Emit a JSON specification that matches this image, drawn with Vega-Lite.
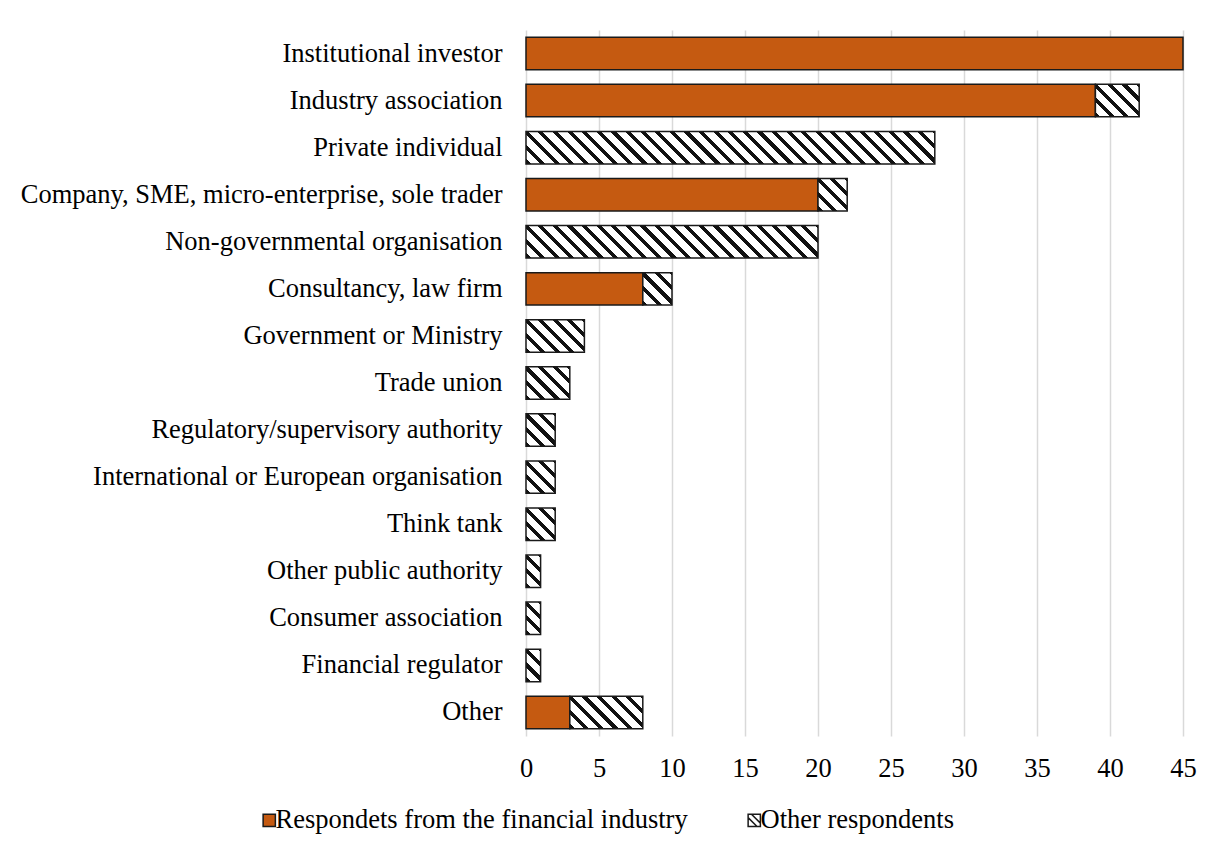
{
  "$schema": "https://vega.github.io/schema/vega-lite/v6.json",
  "autosize": {"type": "none"},
  "padding": {"left": 526, "top": 30, "right": 30, "bottom": 123},
  "width": 657,
  "height": 706,
  "background": "white",
  "config": {
    "font": "Liberation Serif",
    "view": {"stroke": null},
    "axis": {"labelFont": "Liberation Serif", "labelFontSize": 26.5, "labelColor": "#000", "ticks": false, "domain": false, "title": null}
  },
  "data": {
    "values": [
      {"category": "Institutional investor", "group": "Respondets from the financial industry", "n": 45},
      {"category": "Industry association", "group": "Respondets from the financial industry", "n": 39},
      {"category": "Industry association", "group": "Other respondents", "n": 3},
      {"category": "Private individual", "group": "Other respondents", "n": 28},
      {"category": "Company, SME, micro-enterprise, sole trader", "group": "Respondets from the financial industry", "n": 20},
      {"category": "Company, SME, micro-enterprise, sole trader", "group": "Other respondents", "n": 2},
      {"category": "Non-governmental organisation", "group": "Other respondents", "n": 20},
      {"category": "Consultancy, law firm", "group": "Respondets from the financial industry", "n": 8},
      {"category": "Consultancy, law firm", "group": "Other respondents", "n": 2},
      {"category": "Government or Ministry", "group": "Other respondents", "n": 4},
      {"category": "Trade union", "group": "Other respondents", "n": 3},
      {"category": "Regulatory/supervisory authority", "group": "Other respondents", "n": 2},
      {"category": "International or European organisation", "group": "Other respondents", "n": 2},
      {"category": "Think tank", "group": "Other respondents", "n": 2},
      {"category": "Other public authority", "group": "Other respondents", "n": 1},
      {"category": "Consumer association", "group": "Other respondents", "n": 1},
      {"category": "Financial regulator", "group": "Other respondents", "n": 1},
      {"category": "Other", "group": "Respondets from the financial industry", "n": 3},
      {"category": "Other", "group": "Other respondents", "n": 5}
    ]
  },
  "transform": [
    {"stack": "n", "groupby": ["category"], "sort": [{"field": "group", "order": "descending"}], "as": ["x0", "x1"]}
  ],
  "encoding": {
    "y": {
      "field": "category", "type": "nominal", "sort": null,
      "scale": {
        "domain": ["Institutional investor", "Industry association", "Private individual", "Company, SME, micro-enterprise, sole trader", "Non-governmental organisation", "Consultancy, law firm", "Government or Ministry", "Trade union", "Regulatory/supervisory authority", "International or European organisation", "Think tank", "Other public authority", "Consumer association", "Financial regulator", "Other"],
        "paddingInner": 0.31, "paddingOuter": 0.155
      },
      "axis": {"labelPadding": 24, "labelLimit": 700, "grid": false}
    },
    "x": {
      "field": "x0", "type": "quantitative",
      "scale": {"domain": [0, 45], "nice": false},
      "axis": {"values": [0, 5, 10, 15, 20, 25, 30, 35, 40, 45], "grid": true, "gridColor": "#d9d9d9", "gridWidth": 1.5, "labelPadding": 19, "labelFlush": false}
    },
    "x2": {"field": "x1"}
  },
  "layer": [
    {
      "transform": [{"filter": "datum.group === 'Respondets from the financial industry'"}],
      "mark": {"type": "bar", "stroke": "#1a1a1a", "strokeWidth": 1.5},
      "encoding": {
        "color": {
          "field": "group", "type": "nominal",
          "scale": {"domain": ["Respondets from the financial industry", "Other respondents"], "range": ["#C55A11", "#ffffff"]},
          "legend": {
            "orient": "none", "legendX": -270, "legendY": 777, "direction": "horizontal", "title": null, "padding": 0,
            "symbolType": "square", "symbolSize": 150, "symbolStrokeColor": "#1a1a1a", "symbolStrokeWidth": 1.5, "symbolOpacity": 1,
            "labelFont": "Liberation Serif", "labelFontSize": 26.5, "labelColor": "#000", "labelOffset": -7, "labelLimit": 0, "columnPadding": 53,
            "encode": {"symbols": {"update": {
              "shape": [
                {"test": "datum.value === 'Other respondents'", "value": "M-1,-1H1V1H-1Z M-0.45,-1L1,0.45L1,-1Z M-1,-0.45L-1,1L0.45,1Z"},
                {"value": "square"}
              ],
              "fill": [
                {"test": "datum.value === 'Other respondents'", "value": "#111"},
                {"value": "#C55A11"}
              ],
              "stroke": {"value": "#1a1a1a"},
              "strokeWidth": {"value": 1.5},
              "opacity": {"value": 1}
            }}}
          }
        }
      }
    },
    {
      "transform": [{"filter": "datum.group === 'Other respondents' && datum.n === 1"}],
      "mark": {"type": "bar", "stroke": "#1a1a1a", "strokeWidth": 1.5, "fill": {"gradient": "linear", "x1": 0, "y1": 1, "x2": 0.5421, "y2": -0.2059, "stops": [
        {"offset": 0, "color": "#111"}, {"offset": 0.1085, "color": "#111"}, {"offset": 0.1085, "color": "#fff"}, {"offset": 0.3101, "color": "#fff"},
        {"offset": 0.3101, "color": "#111"}, {"offset": 0.4187, "color": "#111"}, {"offset": 0.4187, "color": "#fff"}, {"offset": 0.6203, "color": "#fff"},
        {"offset": 0.6203, "color": "#111"}, {"offset": 0.7288, "color": "#111"}, {"offset": 0.7288, "color": "#fff"}, {"offset": 0.9304, "color": "#fff"},
        {"offset": 0.9304, "color": "#111"}, {"offset": 1, "color": "#111"}]}}
    },
    {
      "transform": [{"filter": "datum.group === 'Other respondents' && datum.n === 2"}],
      "mark": {"type": "bar", "stroke": "#1a1a1a", "strokeWidth": 1.5, "fill": {"gradient": "linear", "x1": 0, "y1": 1, "x2": 0.9442, "y2": -0.0501, "stops": [
        {"offset": 0, "color": "#111"}, {"offset": 0.0829, "color": "#111"}, {"offset": 0.0829, "color": "#fff"}, {"offset": 0.2367, "color": "#fff"},
        {"offset": 0.2367, "color": "#111"}, {"offset": 0.3196, "color": "#111"}, {"offset": 0.3196, "color": "#fff"}, {"offset": 0.4734, "color": "#fff"},
        {"offset": 0.4734, "color": "#111"}, {"offset": 0.5563, "color": "#111"}, {"offset": 0.5563, "color": "#fff"}, {"offset": 0.7102, "color": "#fff"},
        {"offset": 0.7102, "color": "#111"}, {"offset": 0.7930, "color": "#111"}, {"offset": 0.7930, "color": "#fff"}, {"offset": 0.9469, "color": "#fff"},
        {"offset": 0.9469, "color": "#111"}, {"offset": 1, "color": "#111"}]}}
    },
    {
      "transform": [{"filter": "datum.group === 'Other respondents' && datum.n === 3"}],
      "mark": {"type": "bar", "stroke": "#1a1a1a", "strokeWidth": 1.5, "fill": {"gradient": "linear", "x1": 0, "y1": 1, "x2": 1.1237, "y2": 0.1668, "stops": [
        {"offset": 0, "color": "#111"}, {"offset": 0.0670, "color": "#111"}, {"offset": 0.0670, "color": "#fff"}, {"offset": 0.1914, "color": "#fff"},
        {"offset": 0.1914, "color": "#111"}, {"offset": 0.2584, "color": "#111"}, {"offset": 0.2584, "color": "#fff"}, {"offset": 0.3828, "color": "#fff"},
        {"offset": 0.3828, "color": "#111"}, {"offset": 0.4498, "color": "#111"}, {"offset": 0.4498, "color": "#fff"}, {"offset": 0.5742, "color": "#fff"},
        {"offset": 0.5742, "color": "#111"}, {"offset": 0.6412, "color": "#111"}, {"offset": 0.6412, "color": "#fff"}, {"offset": 0.7656, "color": "#fff"},
        {"offset": 0.7656, "color": "#111"}, {"offset": 0.8326, "color": "#111"}, {"offset": 0.8326, "color": "#fff"}, {"offset": 0.9570, "color": "#fff"},
        {"offset": 0.9570, "color": "#111"}, {"offset": 1, "color": "#111"}]}}
    },
    {
      "transform": [{"filter": "datum.group === 'Other respondents' && datum.n === 4"}],
      "mark": {"type": "bar", "stroke": "#1a1a1a", "strokeWidth": 1.5, "fill": {"gradient": "linear", "x1": 0, "y1": 1, "x2": 1.1885, "y2": 0.3391, "stops": [
        {"offset": 0, "color": "#111"}, {"offset": 0.0562, "color": "#111"}, {"offset": 0.0562, "color": "#fff"}, {"offset": 0.1607, "color": "#fff"},
        {"offset": 0.1607, "color": "#111"}, {"offset": 0.2169, "color": "#111"}, {"offset": 0.2169, "color": "#fff"}, {"offset": 0.3213, "color": "#fff"},
        {"offset": 0.3213, "color": "#111"}, {"offset": 0.3775, "color": "#111"}, {"offset": 0.3775, "color": "#fff"}, {"offset": 0.4820, "color": "#fff"},
        {"offset": 0.4820, "color": "#111"}, {"offset": 0.5382, "color": "#111"}, {"offset": 0.5382, "color": "#fff"}, {"offset": 0.6426, "color": "#fff"},
        {"offset": 0.6426, "color": "#111"}, {"offset": 0.6988, "color": "#111"}, {"offset": 0.6988, "color": "#fff"}, {"offset": 0.8033, "color": "#fff"},
        {"offset": 0.8033, "color": "#111"}, {"offset": 0.8595, "color": "#111"}, {"offset": 0.8595, "color": "#fff"}, {"offset": 0.9640, "color": "#fff"},
        {"offset": 0.9640, "color": "#111"}, {"offset": 1, "color": "#111"}]}}
    },
    {
      "transform": [{"filter": "datum.group === 'Other respondents' && datum.n === 5"}],
      "mark": {"type": "bar", "stroke": "#1a1a1a", "strokeWidth": 1.5, "fill": {"gradient": "linear", "x1": 0, "y1": 1, "x2": 1.2062, "y2": 0.4634, "stops": [
        {"offset": 0, "color": "#111"}, {"offset": 0.0484, "color": "#111"}, {"offset": 0.0484, "color": "#fff"}, {"offset": 0.1384, "color": "#fff"},
        {"offset": 0.1384, "color": "#111"}, {"offset": 0.1869, "color": "#111"}, {"offset": 0.1869, "color": "#fff"}, {"offset": 0.2768, "color": "#fff"},
        {"offset": 0.2768, "color": "#111"}, {"offset": 0.3253, "color": "#111"}, {"offset": 0.3253, "color": "#fff"}, {"offset": 0.4153, "color": "#fff"},
        {"offset": 0.4153, "color": "#111"}, {"offset": 0.4637, "color": "#111"}, {"offset": 0.4637, "color": "#fff"}, {"offset": 0.5537, "color": "#fff"},
        {"offset": 0.5537, "color": "#111"}, {"offset": 0.6021, "color": "#111"}, {"offset": 0.6021, "color": "#fff"}, {"offset": 0.6921, "color": "#fff"},
        {"offset": 0.6921, "color": "#111"}, {"offset": 0.7406, "color": "#111"}, {"offset": 0.7406, "color": "#fff"}, {"offset": 0.8305, "color": "#fff"},
        {"offset": 0.8305, "color": "#111"}, {"offset": 0.8790, "color": "#111"}, {"offset": 0.8790, "color": "#fff"}, {"offset": 0.9689, "color": "#fff"},
        {"offset": 0.9689, "color": "#111"}, {"offset": 1, "color": "#111"}]}}
    },
    {
      "transform": [{"filter": "datum.group === 'Other respondents' && datum.n === 20"}],
      "mark": {"type": "bar", "stroke": "#1a1a1a", "strokeWidth": 1.5, "fill": {"gradient": "linear", "x1": 0, "y1": 1, "x2": 1.0976, "y2": 0.8779, "stops": [
        {"offset": 0, "color": "#111"}, {"offset": 0.0157, "color": "#111"}, {"offset": 0.0157, "color": "#fff"}, {"offset": 0.0450, "color": "#fff"},
        {"offset": 0.0450, "color": "#111"}, {"offset": 0.0607, "color": "#111"}, {"offset": 0.0607, "color": "#fff"}, {"offset": 0.0900, "color": "#fff"},
        {"offset": 0.0900, "color": "#111"}, {"offset": 0.1057, "color": "#111"}, {"offset": 0.1057, "color": "#fff"}, {"offset": 0.1350, "color": "#fff"},
        {"offset": 0.1350, "color": "#111"}, {"offset": 0.1507, "color": "#111"}, {"offset": 0.1507, "color": "#fff"}, {"offset": 0.1800, "color": "#fff"},
        {"offset": 0.1800, "color": "#111"}, {"offset": 0.1957, "color": "#111"}, {"offset": 0.1957, "color": "#fff"}, {"offset": 0.2250, "color": "#fff"},
        {"offset": 0.2250, "color": "#111"}, {"offset": 0.2407, "color": "#111"}, {"offset": 0.2407, "color": "#fff"}, {"offset": 0.2700, "color": "#fff"},
        {"offset": 0.2700, "color": "#111"}, {"offset": 0.2857, "color": "#111"}, {"offset": 0.2857, "color": "#fff"}, {"offset": 0.3150, "color": "#fff"},
        {"offset": 0.3150, "color": "#111"}, {"offset": 0.3307, "color": "#111"}, {"offset": 0.3307, "color": "#fff"}, {"offset": 0.3600, "color": "#fff"},
        {"offset": 0.3600, "color": "#111"}, {"offset": 0.3757, "color": "#111"}, {"offset": 0.3757, "color": "#fff"}, {"offset": 0.4050, "color": "#fff"},
        {"offset": 0.4050, "color": "#111"}, {"offset": 0.4207, "color": "#111"}, {"offset": 0.4207, "color": "#fff"}, {"offset": 0.4500, "color": "#fff"},
        {"offset": 0.4500, "color": "#111"}, {"offset": 0.4657, "color": "#111"}, {"offset": 0.4657, "color": "#fff"}, {"offset": 0.4949, "color": "#fff"},
        {"offset": 0.4949, "color": "#111"}, {"offset": 0.5107, "color": "#111"}, {"offset": 0.5107, "color": "#fff"}, {"offset": 0.5399, "color": "#fff"},
        {"offset": 0.5399, "color": "#111"}, {"offset": 0.5557, "color": "#111"}, {"offset": 0.5557, "color": "#fff"}, {"offset": 0.5849, "color": "#fff"},
        {"offset": 0.5849, "color": "#111"}, {"offset": 0.6007, "color": "#111"}, {"offset": 0.6007, "color": "#fff"}, {"offset": 0.6299, "color": "#fff"},
        {"offset": 0.6299, "color": "#111"}, {"offset": 0.6457, "color": "#111"}, {"offset": 0.6457, "color": "#fff"}, {"offset": 0.6749, "color": "#fff"},
        {"offset": 0.6749, "color": "#111"}, {"offset": 0.6907, "color": "#111"}, {"offset": 0.6907, "color": "#fff"}, {"offset": 0.7199, "color": "#fff"},
        {"offset": 0.7199, "color": "#111"}, {"offset": 0.7357, "color": "#111"}, {"offset": 0.7357, "color": "#fff"}, {"offset": 0.7649, "color": "#fff"},
        {"offset": 0.7649, "color": "#111"}, {"offset": 0.7807, "color": "#111"}, {"offset": 0.7807, "color": "#fff"}, {"offset": 0.8099, "color": "#fff"},
        {"offset": 0.8099, "color": "#111"}, {"offset": 0.8257, "color": "#111"}, {"offset": 0.8257, "color": "#fff"}, {"offset": 0.8549, "color": "#fff"},
        {"offset": 0.8549, "color": "#111"}, {"offset": 0.8707, "color": "#111"}, {"offset": 0.8707, "color": "#fff"}, {"offset": 0.8999, "color": "#fff"},
        {"offset": 0.8999, "color": "#111"}, {"offset": 0.9157, "color": "#111"}, {"offset": 0.9157, "color": "#fff"}, {"offset": 0.9449, "color": "#fff"},
        {"offset": 0.9449, "color": "#111"}, {"offset": 0.9607, "color": "#111"}, {"offset": 0.9607, "color": "#fff"}, {"offset": 0.9899, "color": "#fff"},
        {"offset": 0.9899, "color": "#111"}, {"offset": 1, "color": "#111"}]}}
    },
    {
      "transform": [{"filter": "datum.group === 'Other respondents' && datum.n === 28"}],
      "mark": {"type": "bar", "stroke": "#1a1a1a", "strokeWidth": 1.5, "fill": {"gradient": "linear", "x1": 0, "y1": 1, "x2": 1.0727, "y2": 0.9148, "stops": [
        {"offset": 0, "color": "#111"}, {"offset": 0.0116, "color": "#111"}, {"offset": 0.0116, "color": "#fff"}, {"offset": 0.0331, "color": "#fff"},
        {"offset": 0.0331, "color": "#111"}, {"offset": 0.0447, "color": "#111"}, {"offset": 0.0447, "color": "#fff"}, {"offset": 0.0662, "color": "#fff"},
        {"offset": 0.0662, "color": "#111"}, {"offset": 0.0777, "color": "#111"}, {"offset": 0.0777, "color": "#fff"}, {"offset": 0.0993, "color": "#fff"},
        {"offset": 0.0993, "color": "#111"}, {"offset": 0.1108, "color": "#111"}, {"offset": 0.1108, "color": "#fff"}, {"offset": 0.1323, "color": "#fff"},
        {"offset": 0.1323, "color": "#111"}, {"offset": 0.1439, "color": "#111"}, {"offset": 0.1439, "color": "#fff"}, {"offset": 0.1654, "color": "#fff"},
        {"offset": 0.1654, "color": "#111"}, {"offset": 0.1770, "color": "#111"}, {"offset": 0.1770, "color": "#fff"}, {"offset": 0.1985, "color": "#fff"},
        {"offset": 0.1985, "color": "#111"}, {"offset": 0.2101, "color": "#111"}, {"offset": 0.2101, "color": "#fff"}, {"offset": 0.2316, "color": "#fff"},
        {"offset": 0.2316, "color": "#111"}, {"offset": 0.2432, "color": "#111"}, {"offset": 0.2432, "color": "#fff"}, {"offset": 0.2647, "color": "#fff"},
        {"offset": 0.2647, "color": "#111"}, {"offset": 0.2763, "color": "#111"}, {"offset": 0.2763, "color": "#fff"}, {"offset": 0.2978, "color": "#fff"},
        {"offset": 0.2978, "color": "#111"}, {"offset": 0.3093, "color": "#111"}, {"offset": 0.3093, "color": "#fff"}, {"offset": 0.3309, "color": "#fff"},
        {"offset": 0.3309, "color": "#111"}, {"offset": 0.3424, "color": "#111"}, {"offset": 0.3424, "color": "#fff"}, {"offset": 0.3639, "color": "#fff"},
        {"offset": 0.3639, "color": "#111"}, {"offset": 0.3755, "color": "#111"}, {"offset": 0.3755, "color": "#fff"}, {"offset": 0.3970, "color": "#fff"},
        {"offset": 0.3970, "color": "#111"}, {"offset": 0.4086, "color": "#111"}, {"offset": 0.4086, "color": "#fff"}, {"offset": 0.4301, "color": "#fff"},
        {"offset": 0.4301, "color": "#111"}, {"offset": 0.4417, "color": "#111"}, {"offset": 0.4417, "color": "#fff"}, {"offset": 0.4632, "color": "#fff"},
        {"offset": 0.4632, "color": "#111"}, {"offset": 0.4748, "color": "#111"}, {"offset": 0.4748, "color": "#fff"}, {"offset": 0.4963, "color": "#fff"},
        {"offset": 0.4963, "color": "#111"}, {"offset": 0.5079, "color": "#111"}, {"offset": 0.5079, "color": "#fff"}, {"offset": 0.5294, "color": "#fff"},
        {"offset": 0.5294, "color": "#111"}, {"offset": 0.5409, "color": "#111"}, {"offset": 0.5409, "color": "#fff"}, {"offset": 0.5625, "color": "#fff"},
        {"offset": 0.5625, "color": "#111"}, {"offset": 0.5740, "color": "#111"}, {"offset": 0.5740, "color": "#fff"}, {"offset": 0.5955, "color": "#fff"},
        {"offset": 0.5955, "color": "#111"}, {"offset": 0.6071, "color": "#111"}, {"offset": 0.6071, "color": "#fff"}, {"offset": 0.6286, "color": "#fff"},
        {"offset": 0.6286, "color": "#111"}, {"offset": 0.6402, "color": "#111"}, {"offset": 0.6402, "color": "#fff"}, {"offset": 0.6617, "color": "#fff"},
        {"offset": 0.6617, "color": "#111"}, {"offset": 0.6733, "color": "#111"}, {"offset": 0.6733, "color": "#fff"}, {"offset": 0.6948, "color": "#fff"},
        {"offset": 0.6948, "color": "#111"}, {"offset": 0.7064, "color": "#111"}, {"offset": 0.7064, "color": "#fff"}, {"offset": 0.7279, "color": "#fff"},
        {"offset": 0.7279, "color": "#111"}, {"offset": 0.7395, "color": "#111"}, {"offset": 0.7395, "color": "#fff"}, {"offset": 0.7610, "color": "#fff"},
        {"offset": 0.7610, "color": "#111"}, {"offset": 0.7725, "color": "#111"}, {"offset": 0.7725, "color": "#fff"}, {"offset": 0.7941, "color": "#fff"},
        {"offset": 0.7941, "color": "#111"}, {"offset": 0.8056, "color": "#111"}, {"offset": 0.8056, "color": "#fff"}, {"offset": 0.8271, "color": "#fff"},
        {"offset": 0.8271, "color": "#111"}, {"offset": 0.8387, "color": "#111"}, {"offset": 0.8387, "color": "#fff"}, {"offset": 0.8602, "color": "#fff"},
        {"offset": 0.8602, "color": "#111"}, {"offset": 0.8718, "color": "#111"}, {"offset": 0.8718, "color": "#fff"}, {"offset": 0.8933, "color": "#fff"},
        {"offset": 0.8933, "color": "#111"}, {"offset": 0.9049, "color": "#111"}, {"offset": 0.9049, "color": "#fff"}, {"offset": 0.9264, "color": "#fff"},
        {"offset": 0.9264, "color": "#111"}, {"offset": 0.9380, "color": "#111"}, {"offset": 0.9380, "color": "#fff"}, {"offset": 0.9595, "color": "#fff"},
        {"offset": 0.9595, "color": "#111"}, {"offset": 0.9711, "color": "#111"}, {"offset": 0.9711, "color": "#fff"}, {"offset": 0.9926, "color": "#fff"},
        {"offset": 0.9926, "color": "#111"}, {"offset": 1, "color": "#111"}]}}
    }
  ]
}
